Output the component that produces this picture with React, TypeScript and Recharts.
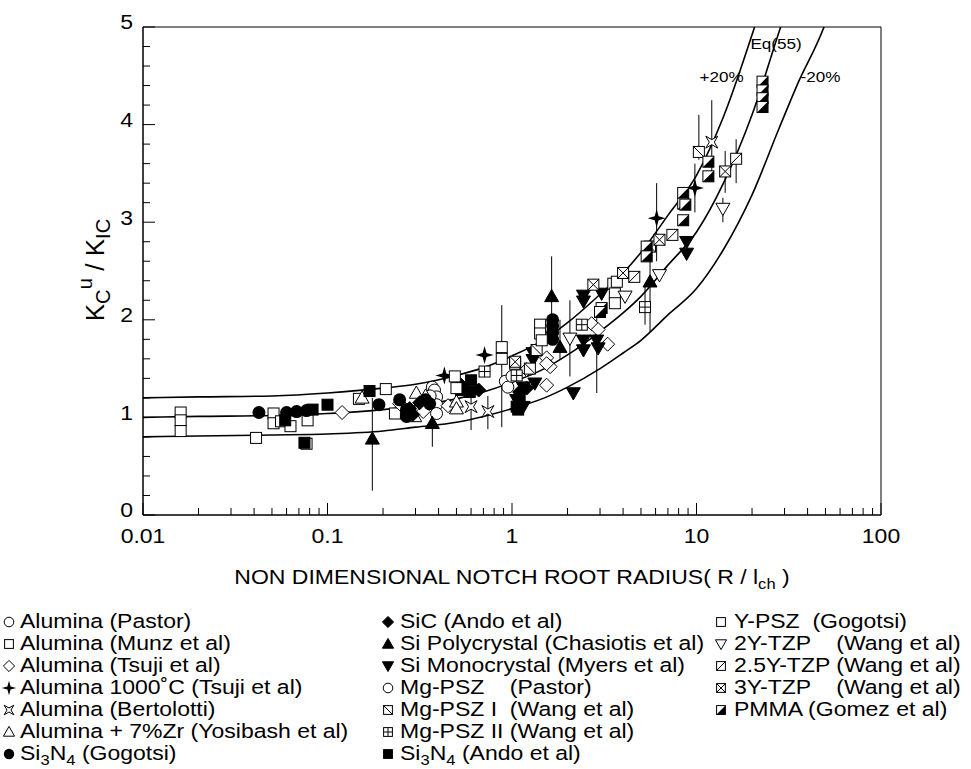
import React from 'react';
import {
  ComposedChart, Line, Scatter, XAxis, YAxis, ErrorBar, ReferenceArea,
} from 'recharts';

const W = 971;
const H = 769;
const FONT = '"Liberation Sans", Arial, Helvetica, sans-serif';
const SX = 1.18; // the figure's lettering is horizontally wide

// ---------- axes ----------
const xTicks = [0.01, 0.1, 1, 10, 100];
const xTickLabels = ['0.01', '0.1', '1', '10', '100'];
const xMinorTicks = [
  0.02, 0.03, 0.04, 0.05, 0.06, 0.07, 0.08, 0.09,
  0.2, 0.3, 0.4, 0.5, 0.6, 0.7, 0.8, 0.9,
  2, 3, 4, 5, 6, 7, 8, 9,
  20, 30, 40, 50, 60, 70, 80, 90,
];
const yTicks = [0, 1, 2, 3, 4, 5];
const yTickLabels = ['0', '1', '2', '3', '4', '5'];
const yMinorTicks = [
  0.2, 0.4, 0.6, 0.8, 1.2, 1.4, 1.6, 1.8, 2.2, 2.4, 2.6, 2.8,
  3.2, 3.4, 3.6, 3.8, 4.2, 4.4, 4.6, 4.8,
];

// ---------- curves ----------
const eq55Curve = [
  [0.01, 1.0], [0.02, 1.01], [0.05, 1.02], [0.1, 1.04], [0.2, 1.08], [0.3, 1.12],
  [0.5, 1.19], [0.7, 1.26], [1, 1.36], [1.5, 1.5], [2, 1.64], [3, 1.88], [4, 2.07],
  [5, 2.24], [7, 2.56], [10, 2.9], [14, 3.4], [20, 4.1], [28, 4.95], [35, 5.5],
];
const plus20Curve = [
  [0.01, 1.2], [0.02, 1.21], [0.05, 1.22], [0.1, 1.25], [0.2, 1.3], [0.3, 1.34],
  [0.5, 1.43], [0.7, 1.51], [1, 1.63], [1.5, 1.8], [2, 1.97], [3, 2.26], [4, 2.48],
  [5, 2.69], [7, 3.07], [10, 3.48], [14, 4.08], [20, 4.92], [25, 5.5],
];
const minus20Curve = [
  [0.01, 0.8], [0.02, 0.81], [0.05, 0.82], [0.1, 0.83], [0.2, 0.86], [0.3, 0.9],
  [0.5, 0.95], [0.7, 1.01], [1, 1.09], [1.5, 1.2], [2, 1.31], [3, 1.5], [4, 1.66],
  [5, 1.79], [7, 2.05], [10, 2.32], [14, 2.72], [20, 3.28], [28, 3.96], [35, 4.4],
  [50, 5.04], [60, 5.5],
];

const curveLabelText = ['+20%', 'Eq(55)', '-20%'];
const curveLabelX = [13.7, 27, 47];
const curveLabelY = [4.49, 4.83, 4.49];

// ---------- scatter series: [x, y, errLow?, errHigh?] ----------
const aluminaPastor = [[0.37, 1.31], [0.38, 1.28], [0.39, 1.21], [0.39, 1.13], [0.39, 1.04], [0.36, 1.22]];
const aluminaMunz = [
  [0.016, 1.05], [0.016, 0.97], [0.016, 0.86], [0.041, 0.79], [0.051, 1.04], [0.051, 0.94],
  [0.056, 0.96], [0.063, 0.91], [0.078, 0.97], [0.077, 0.73], [0.148, 1.19], [0.207, 1.29], [0.232, 1.04],
];
const aluminaTsuji = [
  [0.12, 1.05], [0.246, 1.14], [0.33, 1.06], [0.45, 1.12], [1.54, 1.61], [1.61, 1.52],
  [1.54, 1.33], [1.54, 1.55], [1.2, 1.49], [2.7, 1.96], [2.93, 1.9], [3.3, 1.75],
];
const alumina1000 = [[0.43, 1.43], [0.71, 1.64], [6.08, 3.04, 2.6, 3.4], [9.8, 3.35, 3.1, 3.6]];
const aluminaBertolotti = [[0.6, 1.11, 0.87, 1.3], [0.74, 1.06, 0.88, 1.22], [12.1, 3.82, 3.5, 4.25]];
const aluminaZr = [[0.154, 1.2], [0.303, 1.25], [0.297, 1.01], [0.5, 1.16], [0.5, 1.09], [0.34, 1.22]];
const si3n4Gogotsi = [
  [0.0425, 1.05], [0.06, 1.05], [0.068, 1.06], [0.077, 1.07], [0.19, 1.13], [0.246, 1.18],
  [0.268, 1.08], [0.268, 1.01], [0.358, 1.14], [0.34, 1.18], [1.66, 2.0], [1.66, 1.94],
  [1.66, 1.87], [1.66, 1.8],
];
const sicAndo = [[0.279, 1.09], [0.316, 1.15], [0.29, 1.03], [0.53, 1.33], [0.66, 1.28], [1.1, 1.26], [1.2, 1.3]];
const siPoly = [
  [0.175, 0.78, 0.25, 1.2], [0.37, 0.94, 0.7, 1.25], [1.64, 2.24, 1.95, 2.65],
  [1.82, 1.72, 1.6, 2.0], [5.6, 2.39, 1.87, 2.6],
];
const siMono = [
  [1.3, 1.59], [1.3, 1.66], [1.33, 1.35], [1.15, 1.31], [1.06, 1.18], [1.15, 1.11], [2.44, 1.79], [2.44, 1.69],
  [2.88, 1.79, 1.25, 2.03], [2.93, 1.71], [2.44, 2.25], [3.06, 2.27], [2.15, 1.25], [8.84, 2.8],
  [8.84, 2.68], [2.44, 2.19],
];
const mgPszPastor = [[0.92, 1.37], [0.95, 1.31], [1.0, 1.42]];
const mgPszI = [[1.36, 1.69], [1.04, 1.55], [1.25, 1.5], [5.6, 2.75], [10.3, 3.72, 3.64, 4.1]];
const mgPszII = [[1.06, 1.43], [0.71, 1.47], [2.39, 1.95], [5.26, 2.13, 1.95, 2.35]];
const si3n4Ando = [
  [0.059, 0.97], [0.083, 1.08], [0.1, 1.13], [0.169, 1.27], [0.075, 0.74], [0.6, 1.38],
  [0.59, 1.26], [0.53, 1.28], [1.1, 1.21], [1.08, 1.08], [1.06, 1.11],
];
const yPsz = [
  [0.88, 1.72, 0.9, 2.15], [0.88, 1.6], [0.49, 1.42], [0.5, 1.3], [1.42, 1.95], [1.42, 1.86], [1.45, 1.79],
  [3.54, 2.37], [3.61, 2.27], [3.61, 2.17], [3.7, 2.39],
];
const tzp2 = [[2.06, 1.81, 1.42, 2.2], [6.3, 2.46], [4.1, 2.24], [13.9, 3.14, 3.0, 3.25]];
const tzp25 = [[16.4, 3.65, 3.4, 3.85], [7.4, 2.87], [4.6, 2.44]];
const tzp3 = [[14.3, 3.52, 3.3, 3.73], [6.3, 2.82], [4.0, 2.48], [2.76, 2.36], [1.04, 1.57]];
const pmma = [
  [22.8, 4.44], [22.8, 4.35], [22.8, 4.27], [22.8, 4.18], [11.6, 3.62], [11.6, 3.47],
  [8.47, 3.3], [8.47, 3.19], [8.47, 3.02], [5.37, 2.75], [5.37, 2.65], [3.06, 2.12],
  [3.0, 2.08], [8.7, 3.18],
];

// legend names (markup: _x subscript)
const seriesNames = [
  'Alumina (Pastor)', 'Alumina (Munz et al)', 'Alumina (Tsuji et al)', 'Alumina 1000˚C (Tsuji et al)',
  'Alumina (Bertolotti)', 'Alumina + 7%Zr (Yosibash et al)', 'Si_3N_4 (Gogotsi)',
  'SiC (Ando et al)', 'Si Polycrystal (Chasiotis et al)', 'Si Monocrystal (Myers et al)',
  'Mg-PSZ    (Pastor)', 'Mg-PSZ I  (Wang et al)', 'Mg-PSZ II (Wang et al)', 'Si_3N_4 (Ando et al)',
  'Y-PSZ  (Gogotsi)', '2Y-TZP    (Wang et al)', '2.5Y-TZP (Wang et al)', '3Y-TZP    (Wang et al)',
  'PMMA (Gomez et al)',
];
const seriesShapes = [
  'circleOpen', 'squareOpen', 'diamondOpen', 'star4', 'starX', 'triUpOpen', 'circleFilled',
  'diamondFilled', 'triUpFilled', 'triDownFilled', 'circleOpen', 'squareBack', 'squarePlus', 'squareFilled',
  'squareOpen', 'triDownOpen', 'squareSlash', 'squareX', 'pmma',
];
const seriesData = [
  aluminaPastor, aluminaMunz, aluminaTsuji, alumina1000, aluminaBertolotti, aluminaZr, si3n4Gogotsi,
  sicAndo, siPoly, siMono, mgPszPastor, mgPszI, mgPszII, si3n4Ando,
  yPsz, tzp2, tzp25, tzp3, pmma,
];
const legendColumns = [[0, 1, 2, 3, 4, 5, 6], [7, 8, 9, 10, 11, 12, 13], [14, 15, 16, 17, 18]];

// ---------- markers ----------
function Marker({ kind, cx, cy, s = 1 }: any) {
  if (cx == null || cy == null) return null;
  const sw = 1;
  const h = 5.5 * s;
  const sq = (fill: string) => (
    <rect x={cx - h} y={cy - h} width={2 * h} height={2 * h} fill={fill} stroke="#000" strokeWidth={sw} />
  );
  switch (kind) {
    case 'circleOpen':
      return <circle cx={cx} cy={cy} r={6 * s} fill="#fff" stroke="#000" strokeWidth={sw} />;
    case 'circleFilled':
      return <circle cx={cx} cy={cy} r={6.5 * s} fill="#000" />;
    case 'squareOpen':
      return sq('#fff');
    case 'squareFilled':
      return sq('#000');
    case 'squareSlash':
      return (<g>{sq('#fff')}<line x1={cx - h} y1={cy + h} x2={cx + h} y2={cy - h} stroke="#000" strokeWidth={sw} /></g>);
    case 'squareBack':
      return (<g>{sq('#fff')}<line x1={cx - h} y1={cy - h} x2={cx + h} y2={cy + h} stroke="#000" strokeWidth={sw} /></g>);
    case 'squarePlus':
      return (<g>{sq('#fff')}<line x1={cx - h} y1={cy} x2={cx + h} y2={cy} stroke="#000" strokeWidth={sw} /><line x1={cx} y1={cy - h} x2={cx} y2={cy + h} stroke="#000" strokeWidth={sw} /></g>);
    case 'squareX':
      return (<g>{sq('#fff')}<line x1={cx - h} y1={cy - h} x2={cx + h} y2={cy + h} stroke="#000" strokeWidth={sw} /><line x1={cx - h} y1={cy + h} x2={cx + h} y2={cy - h} stroke="#000" strokeWidth={sw} /></g>);
    case 'pmma':
      return (<g>{sq('#fff')}<polygon points={`${cx - h},${cy + h} ${cx + h},${cy - h} ${cx + h},${cy + h}`} fill="#000" /></g>);
    case 'diamondOpen':
    case 'diamondFilled': {
      const d = 7 * s;
      return <polygon points={`${cx},${cy - d} ${cx + d},${cy} ${cx},${cy + d} ${cx - d},${cy}`} fill={kind === 'diamondOpen' ? '#fff' : '#000'} stroke="#000" strokeWidth={sw} />;
    }
    case 'triUpOpen':
    case 'triUpFilled': {
      const a = 7 * s;
      return <polygon points={`${cx},${cy - a} ${cx + a},${cy + a * 0.75} ${cx - a},${cy + a * 0.75}`} fill={kind === 'triUpOpen' ? '#fff' : '#000'} stroke="#000" strokeWidth={sw} />;
    }
    case 'triDownOpen':
    case 'triDownFilled': {
      const a = 7 * s;
      return <polygon points={`${cx},${cy + a} ${cx + a},${cy - a * 0.75} ${cx - a},${cy - a * 0.75}`} fill={kind === 'triDownOpen' ? '#fff' : '#000'} stroke="#000" strokeWidth={sw} />;
    }
    case 'star4': {
      const o = 9 * s, i = 2 * s;
      return <polygon points={`${cx},${cy - o} ${cx + i},${cy - i} ${cx + o},${cy} ${cx + i},${cy + i} ${cx},${cy + o} ${cx - i},${cy + i} ${cx - o},${cy} ${cx - i},${cy - i}`} fill="#000" />;
    }
    case 'starX': {
      const o = 6 * s, i = 2.5 * s;
      return <polygon points={`${cx - o},${cy - o} ${cx},${cy - i} ${cx + o},${cy - o} ${cx + i},${cy} ${cx + o},${cy + o} ${cx},${cy + i} ${cx - o},${cy + o} ${cx - i},${cy}`} fill="#fff" stroke="#000" strokeWidth={sw} />;
    }
    default:
      return null;
  }
}

// ---------- helpers ----------
const toCurve = (arr: number[][]) => arr.map(([x, y]) => ({ x, y }));
const toPoints = (arr: number[][]) =>
  arr.map(([x, y, lo, hi]) => ({ x, y, err: lo != null ? [y - lo, hi - y] : null }));
const curveLabelPts = curveLabelText.map((t, i) => ({ x: curveLabelX[i], y: curveLabelY[i], text: t }));

function RichText({ x, y, text, fontSize, anchor = 'start', rotate = 0, sx = SX, subScale = 0.72 }: any) {
  const parts: { t: string; m: string }[] = [];
  const re = /([_^])(\{[^}]*\}|.)/g;
  let last = 0;
  let m: RegExpExecArray | null;
  while ((m = re.exec(text))) {
    if (m.index > last) parts.push({ t: text.slice(last, m.index), m: '' });
    const body = m[2].startsWith('{') ? m[2].slice(1, -1) : m[2];
    parts.push({ t: body, m: m[1] === '_' ? 'sub' : 'sup' });
    last = m.index + m[0].length;
  }
  if (last < text.length) parts.push({ t: text.slice(last), m: '' });
  const spans: any[] = [];
  let cur = 0;
  parts.forEach((p, k) => {
    const target = p.m === 'sub' ? 0.3 * fontSize : p.m === 'sup' ? -0.4 * fontSize : 0;
    spans.push(
      <tspan key={k} dy={target - cur} fontSize={p.m ? fontSize * subScale : fontSize}>{p.t}</tspan>
    );
    cur = target;
  });
  return (
    <text
      x={0}
      y={0}
      fontSize={fontSize}
      fontFamily={FONT}
      fill="#000"
      textAnchor={anchor}
      dominantBaseline="central"
      transform={`translate(${x},${y}) rotate(${rotate}) scale(${sx},1)`}
      style={{ whiteSpace: 'pre' }}
    >
      {spans}
    </text>
  );
}

const TICK_FONT = 19.5;

function XTick({ x, y, payload }: any) {
  const v = payload?.value;
  const mi = xTicks.indexOf(v);
  const len = mi >= 0 ? 12 : 7;
  return (
    <g>
      <line x1={x} x2={x} y1={y} y2={y - len} stroke="#000" strokeWidth={1} />
      {mi >= 0 && <RichText x={x} y={y + 22} text={xTickLabels[mi]} fontSize={TICK_FONT} anchor="middle" />}
    </g>
  );
}

function YTick({ x, y, payload }: any) {
  const v = payload?.value;
  const mi = yTicks.indexOf(v);
  const len = mi >= 0 ? 12 : 7;
  return (
    <g>
      <line x1={x} x2={x + len} y1={y} y2={y} stroke="#000" strokeWidth={1} />
      {mi >= 0 && <RichText x={x - 10} y={y - 4} text={yTickLabels[mi]} fontSize={TICK_FONT} anchor="end" />}
    </g>
  );
}

function CurveLabel(p: any) {
  if (p.cx == null) return null;
  return <RichText x={p.cx} y={p.cy} text={p.payload.text} fontSize={14.5} anchor="middle" />;
}

const LEG_COL_X = [9, 388, 721];
const LEG_TEXT_X = [20, 400, 734];
const LEG_ROW0 = 622;
const LEG_ROW_STEP = 22;
const LEG_FONT = 19.5;

const PLOT = { left: 143, right: 881, top: 27, bottom: 515 };
const X_AXIS_H = 30;
const Y_AXIS_W = 50;

export default function App() {
  return (
    <div style={{ position: 'relative', width: W, height: H, background: '#fff' }}>
      <style>{'body{margin:0;background:#fff}'}</style>
      <ComposedChart
        width={W}
        height={H}
        margin={{
          top: PLOT.top,
          right: W - PLOT.right,
          bottom: H - PLOT.bottom - X_AXIS_H,
          left: PLOT.left - Y_AXIS_W,
        }}
      >
        <XAxis
          xAxisId="main"
          dataKey="x"
          type="number"
          scale="log"
          domain={[0.01, 100]}
          allowDataOverflow
          ticks={[...xTicks, ...xMinorTicks]}
          height={X_AXIS_H}
          tickSize={0}
          tickMargin={0}
          axisLine={{ stroke: '#000' }}
          tickLine={false}
          tick={<XTick />}
          interval={0}
        />
        <YAxis
          yAxisId="main"
          type="number"
          domain={[0, 5]}
          allowDataOverflow
          ticks={[...yTicks, ...yMinorTicks]}
          width={Y_AXIS_W}
          tickSize={0}
          tickMargin={0}
          axisLine={{ stroke: '#000' }}
          tickLine={false}
          tick={<YTick />}
          interval={0}
        />
        <ReferenceArea xAxisId="main" yAxisId="main" x1={0.01} x2={100} y1={0} y2={5} fill="none" stroke="#000" strokeWidth={1} />
        {[eq55Curve, plus20Curve, minus20Curve].map((c, i) => (
          <Line
            key={`c${i}`}
            xAxisId="main"
            yAxisId="main"
            data={toCurve(c)}
            dataKey="y"
            type="monotone"
            stroke="#000"
            strokeWidth={1.6}
            dot={false}
            activeDot={false}
            isAnimationActive={false}
          />
        ))}
        {seriesData.map((d, i) => {
          const pts = toPoints(d);
          const hasErr = pts.some((p) => p.err);
          return (
            <Scatter
              key={`s${i}`}
              name={seriesNames[i]}
              xAxisId="main"
              yAxisId="main"
              data={pts}
              dataKey="y"
              isAnimationActive={false}
              shape={(p: any) => <Marker kind={seriesShapes[i]} cx={p.cx} cy={p.cy} />}
            >
              {hasErr && <ErrorBar dataKey="err" direction="y" width={0} stroke="#000" strokeWidth={1} />}
            </Scatter>
          );
        })}
        <Scatter
          xAxisId="main"
          yAxisId="main"
          data={curveLabelPts}
          dataKey="y"
          isAnimationActive={false}
          shape={(p: any) => <CurveLabel {...p} />}
        />
      </ComposedChart>
      <svg width={W} height={H} style={{ position: 'absolute', left: 0, top: 0, pointerEvents: 'none' }}>
        <RichText x={512} y={578} text="NON DIMENSIONAL NOTCH ROOT RADIUS( R / l_{ch} )" fontSize={19.5} anchor="middle" />
        <RichText x={95} y={270} rotate={-90} sx={1} text="K_C^u / K_{IC}" fontSize={26} subScale={0.78} anchor="middle" />
        {legendColumns.map((col, ci) =>
          col.map((si, ri) => {
            const y = LEG_ROW0 + ri * LEG_ROW_STEP;
            return (
              <g key={`lg${si}`}>
                <Marker kind={seriesShapes[si]} cx={LEG_COL_X[ci]} cy={y} s={0.8} />
                <RichText x={LEG_TEXT_X[ci]} y={y} text={seriesNames[si]} fontSize={LEG_FONT} />
              </g>
            );
          })
        )}
      </svg>
    </div>
  );
}
